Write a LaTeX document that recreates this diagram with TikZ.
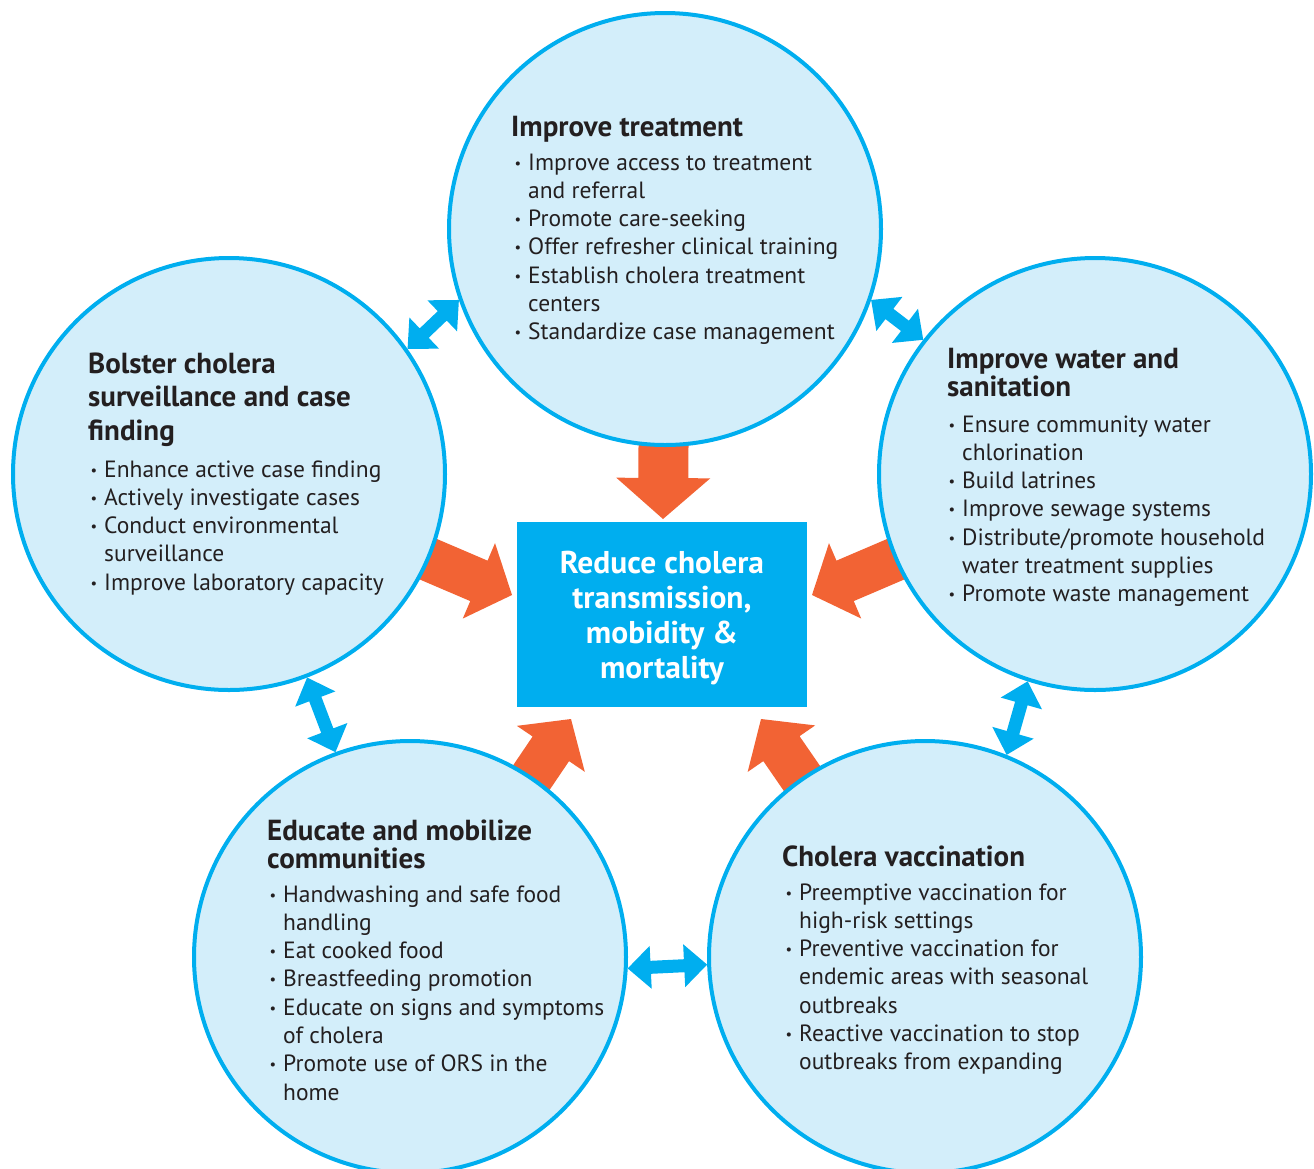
\documentclass[tikz,border=0pt]{standalone}
\usepackage{fontspec}
\usepackage{graphicx}
\setmainfont{PT Sans}
\usetikzlibrary{calc}

\definecolor{cyanblue}{HTML}{00AEEF}
\definecolor{paleblue}{HTML}{D3EEFA}
\definecolor{flame}{HTML}{F26334}
\definecolor{ink}{HTML}{231F20}

\pgfdeclarelayer{back}
\pgfsetlayers{back,main}

% bullet marker and hanging indent for the lists
\newcommand\itembul{\makebox[14pt][l]{\hspace{0.5pt}\raisebox{2pt}{\scalebox{0.62}{\textbullet}}}}
\newcommand\itemind{\hspace*{14pt}}

% block arrow: start, tip, head length, head half-width, shaft half-width
\newcommand\blockarrow[5]{%
  \coordinate (ab) at ($(#2)!#3!(#1)$);
  \fill[flame] (#2) -- ($(ab)!#4!90:(#2)$) -- ($(ab)!#5!90:(#2)$)
    -- ($(#1)!#5!90:(#2)$) -- ($(#1)!#5!-90:(#2)$)
    -- ($(ab)!#5!-90:(#2)$) -- ($(ab)!#4!-90:(#2)$) -- cycle;
}

% double-headed arrow between two points
\newcommand\dblarrow[5]{%
  \coordinate (da) at ($(#1)!#3!(#2)$);
  \coordinate (db) at ($(#2)!#3!(#1)$);
  \fill[cyanblue] (#1) -- ($(da)!#4!90:(#2)$) -- ($(da)!#5!90:(#2)$)
    -- ($(db)!#5!-90:(#1)$) -- ($(db)!#4!-90:(#1)$) -- (#2)
    -- ($(db)!#4!90:(#1)$) -- ($(db)!#5!90:(#1)$)
    -- ($(da)!#5!-90:(#2)$) -- ($(da)!#4!-90:(#2)$) -- cycle;
}

\tikzset{
  areacircle/.style={circle, draw=cyanblue, fill=paleblue, line width=4pt,
    minimum size=432pt, inner sep=0pt},
  headtext/.style={anchor=base west, inner sep=0pt, text=ink,
    font=\bfseries\fontsize{29}{27.5}\selectfont},
  listtext/.style={anchor=base west, inner sep=0pt, text=ink,
    font=\fontsize{23.5}{28.3}\selectfont},
}

\begin{document}
\begin{tikzpicture}[x=1pt, y=-1pt]
\useasboundingbox (0,0) rectangle (1314,1168);

% the five areas of action
\node[areacircle] (treat) at (665,229) {};
\node[areacircle] (surv)  at (229,474) {};
\node[areacircle] (water) at (1095,474) {};
\node[areacircle] (educ)  at (410,957) {};
\node[areacircle] (vacc)  at (925,957) {};

% central goal
\node[fill=cyanblue, minimum width=290pt, minimum height=185pt, inner sep=0pt]
  (goal) at (662,614.5) {};
\node[anchor=base, inner sep=0pt, text=white,
  font=\bfseries\fontsize{31.5}{35}\selectfont] (goaltext) at (662,573)
  {\begin{tabular}[t]{@{}c@{}}Reduce cholera\\transmission,\\mobidity \&\\mortality\end{tabular}};

% tips of the arrows pointing at the goal
\coordinate (tipT)  at (663,519);
\coordinate (tipL)  at (512,595);
\coordinate (tipR)  at (812,595);
\coordinate (tipBL) at (571,719);
\coordinate (tipBR) at (761,719);

\begin{pgfonlayer}{back}
  \blockarrow{treat.center}{tipT}{41pt}{47pt}{25pt}
  \blockarrow{surv.center}{tipL}{36pt}{41pt}{22pt}
  \blockarrow{water.center}{tipR}{36pt}{41pt}{22pt}
  \blockarrow{educ.center}{tipBL}{36pt}{41pt}{22pt}
  \blockarrow{vacc.center}{tipBR}{36pt}{41pt}{22pt}
\end{pgfonlayer}

% links between neighbouring areas
\dblarrow{surv.35.3}{treat.199.4}{23pt}{21.5pt}{6.5pt}
\dblarrow{treat.341.9}{water.142.6}{23pt}{21.5pt}{6.5pt}
\dblarrow{surv.291.5}{educ.110.4}{23pt}{21.5pt}{6.5pt}
\dblarrow{water.252.6}{vacc.68.6}{23pt}{21.5pt}{6.5pt}
\dblarrow{educ.357.1}{vacc.182.9}{23pt}{21.5pt}{6.5pt}

% texts of the areas
\node[headtext] (treathead) at (511,136) {Improve treatment};
\node[listtext] (treatlist) at (514,170) {\begin{tabular}[t]{@{}l@{}}
  \itembul Improve access to treatment\\
  \itemind and referral\\
  \itembul Promote care-seeking\\
  \itembul Offer refresher clinical training\\
  \itembul Establish cholera treatment\\
  \itemind centers\\
  \itembul Standardize case management\end{tabular}};

\node[headtext, font=\bfseries\fontsize{29}{33.5}\selectfont] (survhead) at (88,373)
  {\begin{tabular}[t]{@{}l@{}}Bolster cholera\\surveillance and case\\finding\end{tabular}};
\node[listtext] (survlist) at (90,477) {\begin{tabular}[t]{@{}l@{}}
  \itembul Enhance active case finding\\
  \itembul Actively investigate cases\\
  \itembul Conduct environmental\\
  \itemind surveillance\\
  \itembul Improve laboratory capacity\end{tabular}};

\node[headtext] (waterhead) at (947,368)
  {\begin{tabular}[t]{@{}l@{}}Improve water and\\sanitation\end{tabular}};
\node[listtext] (waterlist) at (948,432) {\begin{tabular}[t]{@{}l@{}}
  \itembul Ensure community water\\
  \itemind chlorination\\
  \itembul Build latrines\\
  \itembul Improve sewage systems\\
  \itembul Distribute/promote household\\
  \itemind water treatment supplies\\
  \itembul Promote waste management\end{tabular}};

\node[headtext] (educhead) at (267,840)
  {\begin{tabular}[t]{@{}l@{}}Educate and mobilize\\communities\end{tabular}};
\node[listtext] (educlist) at (269,902) {\begin{tabular}[t]{@{}l@{}}
  \itembul Handwashing and safe food\\
  \itemind handling\\
  \itembul Eat cooked food\\
  \itembul Breastfeeding promotion\\
  \itembul Educate on signs and symptoms\\
  \itemind of cholera\\
  \itembul Promote use of ORS in the\\
  \itemind home\end{tabular}};

\node[headtext] (vacchead) at (782,866) {Cholera vaccination};
\node[listtext] (vacclist) at (785,900) {\begin{tabular}[t]{@{}l@{}}
  \itembul Preemptive vaccination for\\
  \itemind high-risk settings\\
  \itembul Preventive vaccination for\\
  \itemind endemic areas with seasonal\\
  \itemind outbreaks\\
  \itembul Reactive vaccination to stop\\
  \itemind outbreaks from expanding\end{tabular}};
\end{tikzpicture}
\end{document}
